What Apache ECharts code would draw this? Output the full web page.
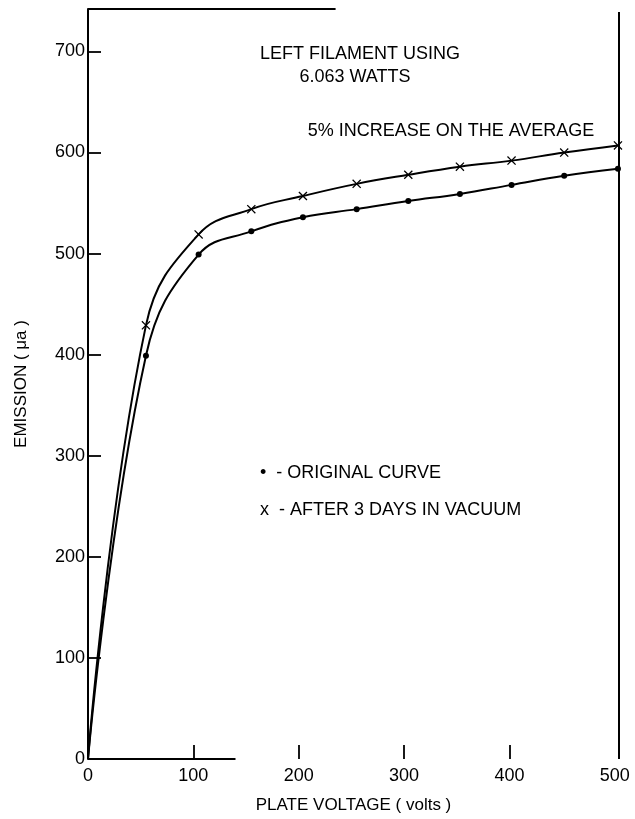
<!DOCTYPE html>
<html>
<head>
<meta charset="utf-8">
<script src="https://cdn.jsdelivr.net/npm/echarts@6/dist/echarts.min.js"></script>
<style>
  html, body { margin: 0; padding: 0; background: #fff; }
  #chart { width: 635px; height: 819px; }
</style>
</head>
<body>
<div id="chart"></div>
<script>
// plate voltage (volts) where points were read
var voltsOrig = [0, 55, 105, 155, 204, 255, 304, 353, 402, 452, 503];
var emisOrig = [0, 399, 499, 522, 536, 544, 552, 559, 568, 577, 584];
var voltsVac = [0, 55, 105, 155, 204, 255, 304, 353, 402, 452, 503];
var emisVac = [0, 429, 519, 544, 557, 569, 578, 586, 592, 600, 607];
var xTicks = [0, 100, 200, 300, 400, 500];
var yTicks = [0, 100, 200, 300, 400, 500, 600, 700];

var font = 'Liberation Sans';
var crossPath = 'path://M0,1L1,0L5,4L9,0L10,1L6,5L10,9L9,10L5,6L1,10L0,9L4,5Z';

function pairs(xs, ys) {
    var out = [];
    for (var i = 0; i < xs.length; i++) {
        out.push({
            value: [xs[i], ys[i]],
            symbolSize: i === 0 ? 0 : undefined
        });
    }
    return out;
}

function txt(s, x, y, align) {
    return {
        type: 'text', x: x, y: y,
        style: { text: s, fill: '#000', font: '18px "' + font + '"', textAlign: align || 'center', textVerticalAlign: 'middle' }
    };
}

var chart = echarts.init(document.getElementById('chart'));

var option = {
    animation: false,
    backgroundColor: '#fff',
    grid: { left: 88, right: 16, top: 9, bottom: 55 },
    xAxis: {
        type: 'value',
        min: 0,
        max: 504,
        name: 'PLATE VOLTAGE ( volts )',
        nameLocation: 'middle',
        nameGap: 38,
        nameTextStyle: { color: '#000', fontSize: 17, fontFamily: font },
        axisLine: { show: false },
        axisTick: {
            show: true, inside: true, length: 14,
            customValues: xTicks.slice(1, 5),
            lineStyle: { color: '#000', width: 1.8 }
        },
        axisLabel: {
            customValues: xTicks,
            color: '#000', fontSize: 18, fontFamily: font, margin: 8
        },
        splitLine: { show: false }
    },
    yAxis: {
        type: 'value',
        min: 0,
        max: 742,
        name: 'EMISSION ( μa )',
        nameLocation: 'middle',
        nameRotate: 90,
        nameGap: 58,
        nameTextStyle: { color: '#000', fontSize: 17, fontFamily: font },
        axisLine: { show: true, lineStyle: { color: '#000', width: 2 } },
        axisTick: {
            show: true, inside: true, length: 13,
            customValues: yTicks,
            lineStyle: { color: '#000', width: 1.8 }
        },
        axisLabel: {
            customValues: yTicks,
            color: '#000', fontSize: 18, fontFamily: font, margin: 3
        },
        splitLine: { show: false }
    },
    graphic: [
        txt('LEFT FILAMENT USING', 360, 54),
        txt('6.063 WATTS', 355, 77),
        txt('5% INCREASE ON THE AVERAGE', 451, 131),
        txt('•  - ORIGINAL CURVE', 260, 473, 'left'),
        txt('x  - AFTER 3 DAYS IN VACUUM', 260, 510, 'left')
    ],
    series: [
        {
            name: 'ORIGINAL CURVE',
            type: 'line',
            smooth: 0.42,
            symbol: 'circle',
            symbolSize: 6,
            lineStyle: { color: '#000', width: 2 },
            itemStyle: { color: '#000' },
            data: pairs(voltsOrig, emisOrig),
            markLine: {
                silent: true,
                symbol: 'none',
                label: { show: false },
                lineStyle: { color: '#000', width: 2, type: 'solid' },
                data: [
                    [{ coord: [0, 0] }, { coord: [140, 0] }],
                    [{ coord: [0, 742] }, { coord: [235, 742] }],
                    [{ coord: [504, 739] }, { coord: [504, 0] }]
                ]
            }
        },
        {
            name: 'AFTER 3 DAYS IN VACUUM',
            type: 'line',
            smooth: 0.42,
            symbol: crossPath,
            symbolSize: 9,
            lineStyle: { color: '#000', width: 2 },
            itemStyle: { color: '#000' },
            data: pairs(voltsVac, emisVac)
        }
    ]
};

chart.setOption(option);
</script>
</body>
</html>
